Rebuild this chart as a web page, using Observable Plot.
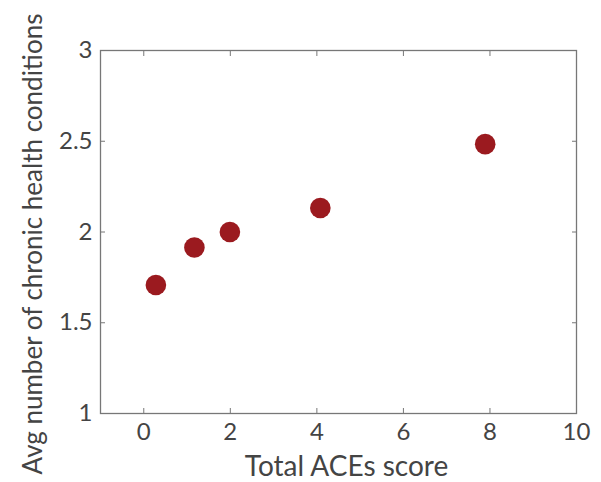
<!DOCTYPE html>
<html><head><meta charset="utf-8">
<script src="https://cdn.jsdelivr.net/npm/d3@7"></script>
<script src="https://cdn.jsdelivr.net/npm/@observablehq/plot@0.6"></script>
<style>body{margin:0;background:#fff;} svg{font-family:Lato,"Open Sans",sans-serif;}</style>
</head><body><div id="chart"></div>
<script>
const acesScore = [0.28, 1.17, 1.99, 4.08, 7.89];
const avgConditions = [1.708, 1.915, 2.0, 2.132, 2.484];
const xTicks = [0, 2, 4, 6, 8, 10];
const yTicks = [1, 1.5, 2, 2.5, 3];
const xLabel = "Total ACEs score";
const yLabel = "Avg number of chronic health conditions";
const data = acesScore.map((x, i) => ({x, y: avgConditions[i]}));
const ink = "#444";
const line = "#777";
const chart = Plot.plot({
  width: 601, height: 482,
  marginLeft: 100, marginRight: 25, marginTop: 50, marginBottom: 69,
  style: {fontFamily: "Lato, 'Open Sans', sans-serif", background: "#fff"},
  x: {domain: [-1, 10]},
  y: {domain: [1, 3]},
  marks: [
    Plot.frame({stroke: line, strokeWidth: 1.3}),
    Plot.axisX(xTicks, {anchor: "top", tickSize: 5, dy: 5, text: null, stroke: line, label: null}),
    Plot.axisX(xTicks, {anchor: "bottom", tickSize: 5, dy: -5, text: null, stroke: line, label: null}),
    Plot.axisY(yTicks, {anchor: "left", tickSize: 5, dx: 5, text: null, stroke: line, label: null}),
    Plot.axisY(yTicks, {anchor: "right", tickSize: 5, dx: -5, text: null, stroke: line, label: null}),
    Plot.axisX(xTicks, {anchor: "bottom", tickSize: 0, tickPadding: 9, fontSize: 24, color: ink, label: null}),
    Plot.axisY(yTicks, {anchor: "left", tickSize: 0, tickPadding: 8, fontSize: 24, color: ink,
      tickFormat: d => String(d), label: null}),
    Plot.text([xLabel], {frameAnchor: "bottom", text: d => d, dy: 62, dx: 8, lineAnchor: "bottom",
      textAnchor: "middle", fontSize: 28, fill: ink}),
    Plot.text([yLabel], {frameAnchor: "left", text: d => d, rotate: -90, dx: -59, dy: 12, lineAnchor: "bottom",
      textAnchor: "middle", fontSize: 26, fill: ink}),
    Plot.dot(data, {x: "x", y: "y", r: 10.3, fill: "#9b1a1f", stroke: null})
  ]
});
document.getElementById("chart").appendChild(chart);
</script></body></html>
